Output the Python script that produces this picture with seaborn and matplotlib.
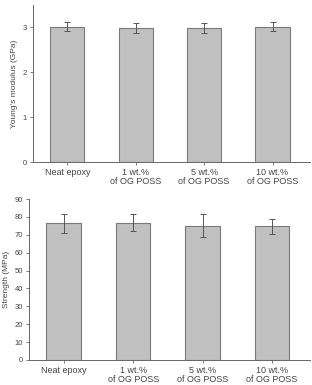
import numpy as np
import pandas as pd
import seaborn as sns
import matplotlib.pyplot as plt

# sample labels
samples = ["Neat epoxy", "1 wt.%\nof OG POSS", "5 wt.%\nof OG POSS", "10 wt.%\nof OG POSS"]

# Young's modulus (GPa) and std
modulus = [3.02, 2.98, 2.99, 3.02]
modulus_err = [0.11, 0.11, 0.12, 0.11]

# strength (MPa) and std
strength = [76.4, 76.7, 75.2, 74.7]
strength_err = [5.3, 4.8, 6.3, 4.0]

sns.set_style("ticks")
plt.rcParams["font.family"] = ["Liberation Sans", "DejaVu Sans"]
text_c = "#444444"
spine_c = "#666666"

fig = plt.figure(figsize=(3.12, 3.85), dpi=100)
ax1 = fig.add_axes([0.106, 0.579, 0.888, 0.408])
ax2 = fig.add_axes([0.093, 0.065, 0.901, 0.418])


def draw(ax, vals, errs, ylabel, ylim, yticks):
    df = pd.DataFrame({"sample": samples, "value": vals})
    sns.barplot(data=df, x="sample", y="value", ax=ax, color="#c0c0c0",
                edgecolor="#7a7a7a", linewidth=0.8, width=0.5, saturation=1,
                errorbar=None)
    ax.errorbar(np.arange(len(vals)), vals, yerr=errs, fmt="none",
                ecolor="#555555", elinewidth=0.7, capsize=2, capthick=0.7)
    ax.set_xlim(-0.5, 3.55)
    ax.set_ylim(*ylim)
    ax.set_yticks(yticks)
    ax.set_xlabel("")
    ax.set_ylabel(ylabel, fontsize=6, color=text_c, labelpad=3)
    ax.tick_params(axis="y", labelsize=5.5, colors=spine_c, labelcolor=text_c,
                   length=2.5, width=0.6, pad=2)
    ax.tick_params(axis="x", labelsize=6.5, colors=spine_c, labelcolor=text_c,
                   length=2.5, width=0.6, pad=2)
    for lbl in ax.get_xticklabels():
        lbl.set_linespacing(0.95)
    sns.despine(ax=ax)
    for s in ["left", "bottom"]:
        ax.spines[s].set_color(spine_c)
        ax.spines[s].set_linewidth(0.7)


draw(ax1, modulus, modulus_err, "Young's modulus (GPa)", (0, 3.5), [0, 1, 2, 3])
draw(ax2, strength, strength_err, "Strength (MPa)", (0, 90), list(range(0, 91, 10)))

fig.savefig("out.png", dpi=100)
